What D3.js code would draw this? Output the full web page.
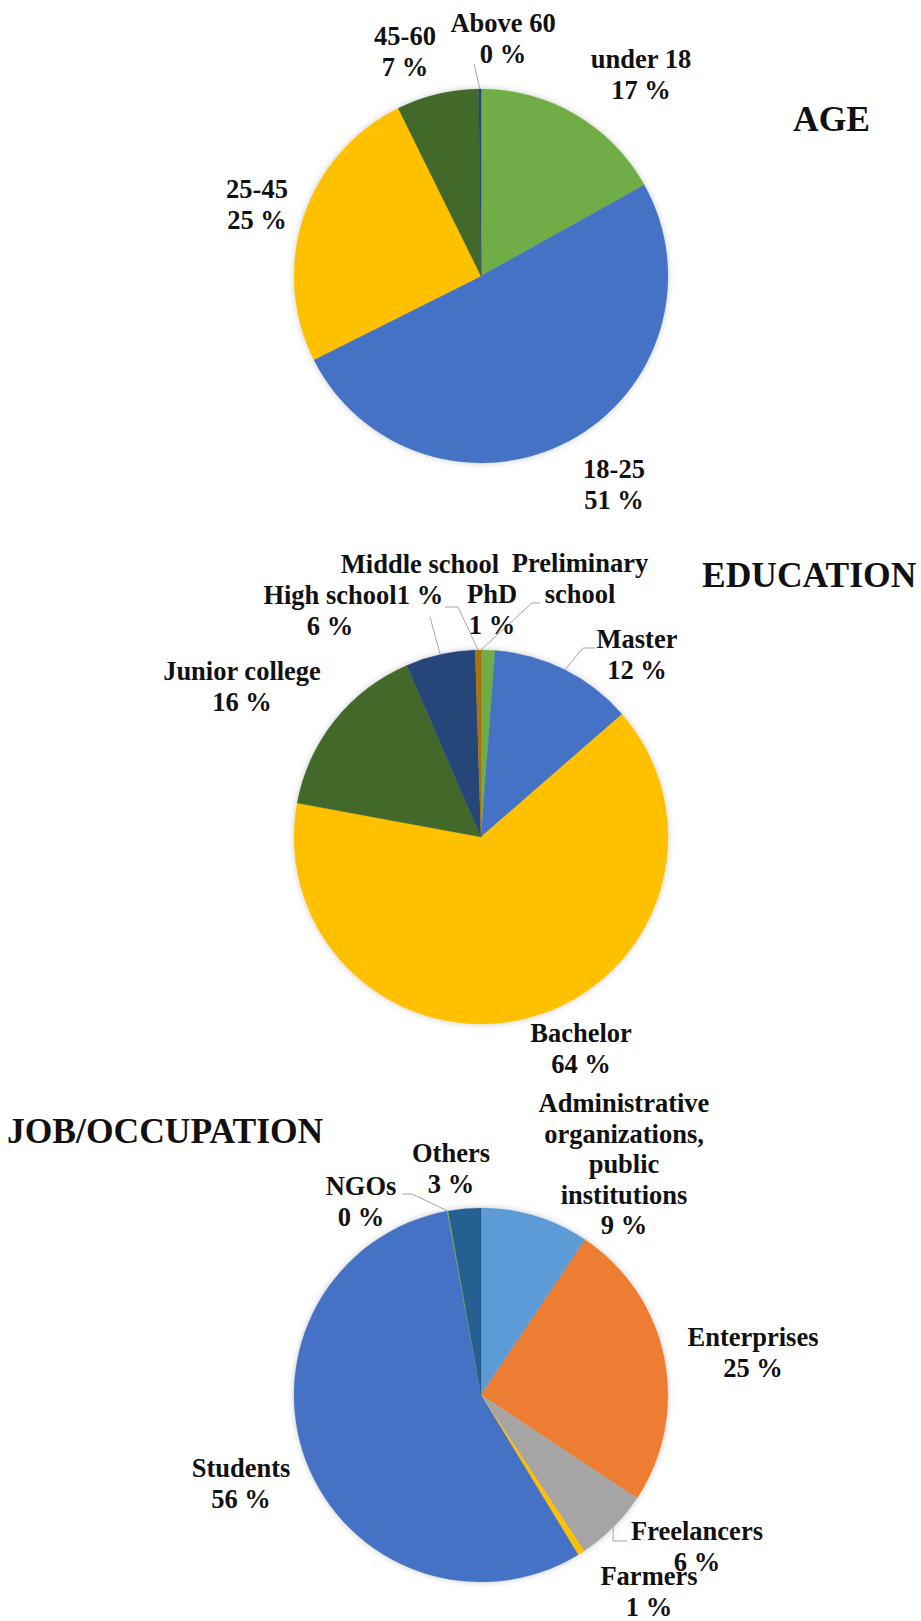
<!DOCTYPE html>
<html>
<head>
<meta charset="utf-8">
<script src="https://cdn.jsdelivr.net/npm/d3@7"></script>
<style>
  html, body { margin: 0; padding: 0; background: #ffffff; }
  svg { display: block; }
  text { font-family: "Liberation Serif", "Times New Roman", serif; font-weight: bold; fill: #111; }
</style>
</head>
<body>
<svg id="chart" width="921" height="1621"></svg>
<script>
// ---------------- DATA ----------------
const ageCategories = ["under 18", "18-25", "25-45", "45-60", "Above 60"];
const ageValues     = [16.9, 50.7, 25.1, 7.1, 0.2];

const eduCategories = ["Preliminary school", "PhD", "Master", "Bachelor", "Junior college", "High school", "Middle school"];
const eduValues     = [0.0, 1.2, 12.4, 64.3, 15.6, 6.0, 0.5];

const jobCategories = ["Administrative organizations, public institutions", "Enterprises", "Freelancers", "Farmers", "Students", "NGOs", "Others"];
const jobValues     = [9.4, 24.9, 6.4, 0.6, 55.8, 0.1, 2.8];

const chartTitles = ["AGE", "EDUCATION", "JOB/OCCUPATION"];

// ---------------- STYLE / LAYOUT ----------------
const ageColors = ["#70AD47", "#4472C4", "#FFC000", "#43682B", "#264478"];
const eduColors = ["#70AD47", "#70AD47", "#4472C4", "#FFC000", "#43682B", "#264478", "#A8720A"];
const jobColors = ["#5B9BD5", "#ED7D31", "#A5A5A5", "#FFC000", "#4472C4", "#70AD47", "#255E91"];

const R = 187;
const LABEL_SIZE = 26.5;
const LINE_H = 30.5;
const TITLE_SIZE = 35.5;

// label offsets relative to pie centre: [dx (centre of text), dy (first baseline)]
const layouts = [
  {
    cx: 481, cy: 276,
    title: {x: 793, y: 131},
    labels: {
      "under 18": {d: [160, -208]},
      "18-25":    {d: [133, 202]},
      "25-45":    {d: [-224, -78]},
      "45-60":    {d: [-76, -231]},
      "Above 60": {d: [22, -244], leader: {elbow: [-7, -212]}}
    }
  },
  {
    cx: 481, cy: 837,
    title: {x: 702, y: 587},
    labels: {
      "Preliminary school": {d: [99, -265], lines: ["Preliminary", "school"], noPct: true,
                             leader: {elbow: [51, -234], endX: 59}},
      "PhD":            {d: [11, -234]},
      "Master":         {d: [156, -189], leader: {elbow: [102, -189], endX: 114}},
      "Bachelor":       {d: [100, 205]},
      "Junior college": {d: [-239, -157]},
      "High school":    {d: [-151, -233], leader: {elbow: [-51, -220]}},
      "Middle school":  {d: [-61, -264], leader: {elbow: [-23, -230], endX: -36}}
    }
  },
  {
    cx: 481, cy: 1395,
    title: {x: 7, y: 1143},
    labels: {
      "Administrative organizations, public institutions":
                     {d: [143, -283], lines: ["Administrative", "organizations,", "public", "institutions"]},
      "Enterprises": {d: [272, -49]},
      "Freelancers": {d: [216, 145], leader: {elbow: [132, 146], endX: 146}},
      "Farmers":     {d: [168, 190]},
      "Students":    {d: [-240, 82]},
      "NGOs":        {d: [-120, -200], leader: {elbow: [-69, -201], endX: -79}},
      "Others":      {d: [-30, -233]}
    }
  }
];

const charts = [
  {cats: ageCategories, vals: ageValues, colors: ageColors},
  {cats: eduCategories, vals: eduValues, colors: eduColors},
  {cats: jobCategories, vals: jobValues, colors: jobColors}
];

// ---------------- DRAW ----------------
const svg = d3.select("#chart");

const defs = svg.append("defs");
const filt = defs.append("filter").attr("id", "soft").attr("x", "-10%").attr("y", "-10%")
  .attr("width", "120%").attr("height", "120%");
filt.append("feDropShadow").attr("dx", 0).attr("dy", 0).attr("stdDeviation", 3)
  .attr("flood-color", "#000").attr("flood-opacity", 0.22);

const pie = d3.pie().sort(null).value(d => d.v);
const arc = d3.arc().innerRadius(0).outerRadius(R);

charts.forEach((c, ci) => {
  const L = layouts[ci];
  const rows = c.cats.map((name, i) => ({name, v: c.vals[i], color: c.colors[i]}));
  const arcs = pie(rows);
  const color = d3.scaleOrdinal().domain(c.cats).range(c.colors);

  const g = svg.append("g").attr("transform", `translate(${L.cx},${L.cy})`);

  g.append("g").attr("filter", "url(#soft)")
    .selectAll("path").data(arcs).join("path")
    .attr("d", arc)
    .attr("fill", d => color(d.data.name))
    .attr("stroke", d => color(d.data.name))
    .attr("stroke-width", 0.3);

  // leader lines
  arcs.forEach(a => {
    const lab = L.labels[a.data.name];
    if (!lab || !lab.leader) return;
    const mid = (a.startAngle + a.endAngle) / 2;
    const px = R * Math.sin(mid), py = -R * Math.cos(mid);
    const pts = [[px, py], lab.leader.elbow];
    if (lab.leader.endX !== undefined) pts.push([lab.leader.endX, lab.leader.elbow[1]]);
    g.append("path")
      .attr("d", d3.line()(pts))
      .attr("fill", "none")
      .attr("stroke", "#A6A6A6")
      .attr("stroke-width", 1);
  });

  // data labels
  arcs.forEach(a => {
    const lab = L.labels[a.data.name];
    if (!lab) return;
    const lines = (lab.lines || [a.data.name]).slice();
    if (!lab.noPct) lines.push(Math.round(a.data.v) + " %");
    const t = g.append("text")
      .attr("x", lab.d[0]).attr("y", lab.d[1])
      .attr("text-anchor", "middle")
      .style("font-size", LABEL_SIZE + "px");
    lines.forEach((ln, k) => {
      t.append("tspan").attr("x", lab.d[0]).attr("dy", k === 0 ? 0 : LINE_H).text(ln);
    });
  });

  svg.append("text")
    .attr("x", L.title.x).attr("y", L.title.y)
    .attr("text-anchor", "start")
    .style("font-size", TITLE_SIZE + "px")
    .text(chartTitles[ci]);
});
</script>
</body>
</html>
